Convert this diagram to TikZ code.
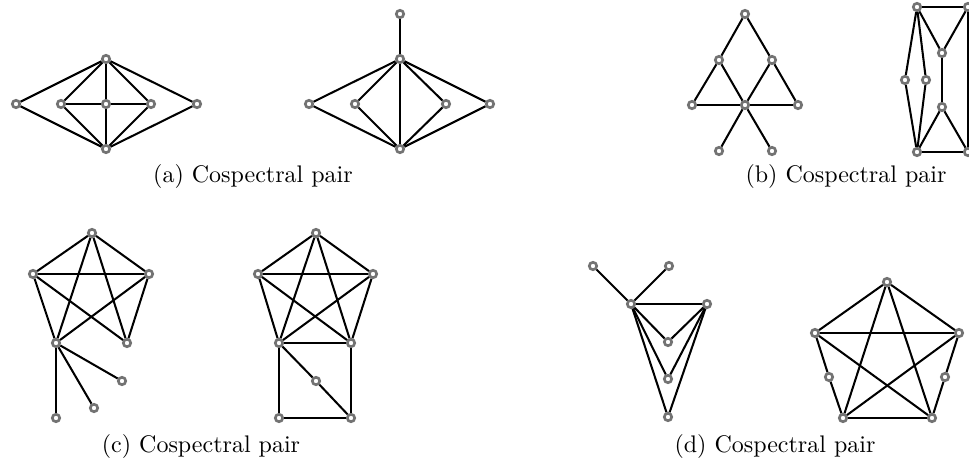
\documentclass[tikz,border=0pt]{standalone}
\begin{document}
\begin{tikzpicture}[x=0.4167pt,y=-0.4167pt,
  vtx/.style={circle,draw=black!55,fill=white,line width=1.1pt,minimum size=3.1pt,inner sep=0pt},
  edg/.style={line width=0.85pt,black},
  captext/.style={font=\normalsize,inner sep=0pt}]
\useasboundingbox (0,0) rectangle (969,465);
% (a) left
\node[vtx] (a1) at (106,59) {};
\node[vtx] (a2) at (16,104) {};
\node[vtx] (a3) at (61,104) {};
\node[vtx] (a4) at (106,104) {};
\node[vtx] (a5) at (151,104) {};
\node[vtx] (a6) at (197,104) {};
\node[vtx] (a7) at (106,149) {};
\foreach \u/\v in {a1/a2,a1/a3,a1/a4,a1/a5,a1/a6,a7/a2,a7/a3,a7/a4,a7/a5,a7/a6,a3/a4,a4/a5}
  \draw[edg] (\u) -- (\v);
% (a) right
\node[vtx] (b0) at (400,14) {};
\node[vtx] (b1) at (400,59) {};
\node[vtx] (b2) at (309,104) {};
\node[vtx] (b3) at (355,104) {};
\node[vtx] (b4) at (446,104) {};
\node[vtx] (b5) at (490,104) {};
\node[vtx] (b6) at (400,149) {};
\foreach \u/\v in {b0/b1,b1/b2,b1/b3,b1/b6,b1/b4,b1/b5,b6/b2,b6/b3,b6/b4,b6/b5}
  \draw[edg] (\u) -- (\v);
\node[captext] (capa) at (253,177) {(a) Cospectral pair};
% (b) left
\node[vtx] (c1) at (745,14) {};
\node[vtx] (c2) at (719,60) {};
\node[vtx] (c3) at (772,60) {};
\node[vtx] (c4) at (692,105) {};
\node[vtx] (c5) at (745,105) {};
\node[vtx] (c6) at (798,105) {};
\node[vtx] (c7) at (719,151) {};
\node[vtx] (c8) at (772,151) {};
\foreach \u/\v in {c1/c2,c1/c3,c2/c4,c2/c5,c3/c5,c3/c6,c4/c5,c5/c6,c5/c7,c5/c8}
  \draw[edg] (\u) -- (\v);
% (b) right
\node[vtx] (d1) at (917,7) {};
\node[vtx] (d2) at (968,7) {};
\node[vtx] (d3) at (942,53) {};
\node[vtx] (d4) at (905,80) {};
\node[vtx] (d5) at (926,80) {};
\node[vtx] (d6) at (942,107) {};
\node[vtx] (d7) at (917,152) {};
\node[vtx] (d8) at (968,152) {};
\foreach \u/\v in {d1/d2,d1/d3,d3/d2,d1/d4,d1/d5,d4/d7,d5/d7,d3/d6,d6/d7,d6/d8,d7/d8,d2/d8}
  \draw[edg] (\u) -- (\v);
\node[captext] (capb) at (846,177) {(b) Cospectral pair};
% (c) left
\node[vtx] (e1) at (92,233) {};
\node[vtx] (e2) at (33,274) {};
\node[vtx] (e3) at (149,274) {};
\node[vtx] (e4) at (56,343) {};
\node[vtx] (e5) at (127,343) {};
\node[vtx] (e6) at (122,381) {};
\node[vtx] (e7) at (94,408) {};
\node[vtx] (e8) at (56,418) {};
\foreach \u/\v in {e1/e2,e1/e3,e2/e3,e1/e4,e1/e5,e2/e4,e2/e5,e3/e4,e3/e5,e4/e6,e4/e7,e4/e8}
  \draw[edg] (\u) -- (\v);
% (c) right
\node[vtx] (f1) at (316,233) {};
\node[vtx] (f2) at (258,274) {};
\node[vtx] (f3) at (373,274) {};
\node[vtx] (f4) at (279,343) {};
\node[vtx] (f5) at (351,343) {};
\node[vtx] (f6) at (316,381) {};
\node[vtx] (f7) at (279,418) {};
\node[vtx] (f8) at (351,418) {};
\foreach \u/\v in {f1/f2,f1/f3,f2/f3,f1/f4,f1/f5,f2/f4,f2/f5,f3/f4,f3/f5,f4/f5,f4/f7,f5/f8,f7/f8,f4/f6,f6/f8}
  \draw[edg] (\u) -- (\v);
\node[captext] (capc) at (201,447) {(c) Cospectral pair};
% (d) left
\node[vtx] (g1) at (593,266) {};
\node[vtx] (g2) at (669,266) {};
\node[vtx] (g3) at (631,304) {};
\node[vtx] (g4) at (707,304) {};
\node[vtx] (g5) at (668,342) {};
\node[vtx] (g6) at (668,379) {};
\node[vtx] (g7) at (668,417) {};
\foreach \u/\v in {g1/g3,g2/g3,g3/g4,g3/g5,g3/g6,g3/g7,g4/g5,g4/g6,g4/g7}
  \draw[edg] (\u) -- (\v);
% (d) right
\node[vtx] (h1) at (887,282) {};
\node[vtx] (h2) at (815,333) {};
\node[vtx] (h3) at (959,333) {};
\node[vtx] (h4) at (829,377) {};
\node[vtx] (h5) at (945,377) {};
\node[vtx] (h6) at (843,418) {};
\node[vtx] (h7) at (932,418) {};
\foreach \u/\v in {h1/h2,h1/h3,h2/h3,h1/h6,h1/h7,h2/h7,h3/h6,h6/h7,h2/h4,h4/h6,h3/h5,h5/h7}
  \draw[edg] (\u) -- (\v);
\node[captext] (capd) at (775,447) {(d) Cospectral pair};
\end{tikzpicture}
\end{document}
